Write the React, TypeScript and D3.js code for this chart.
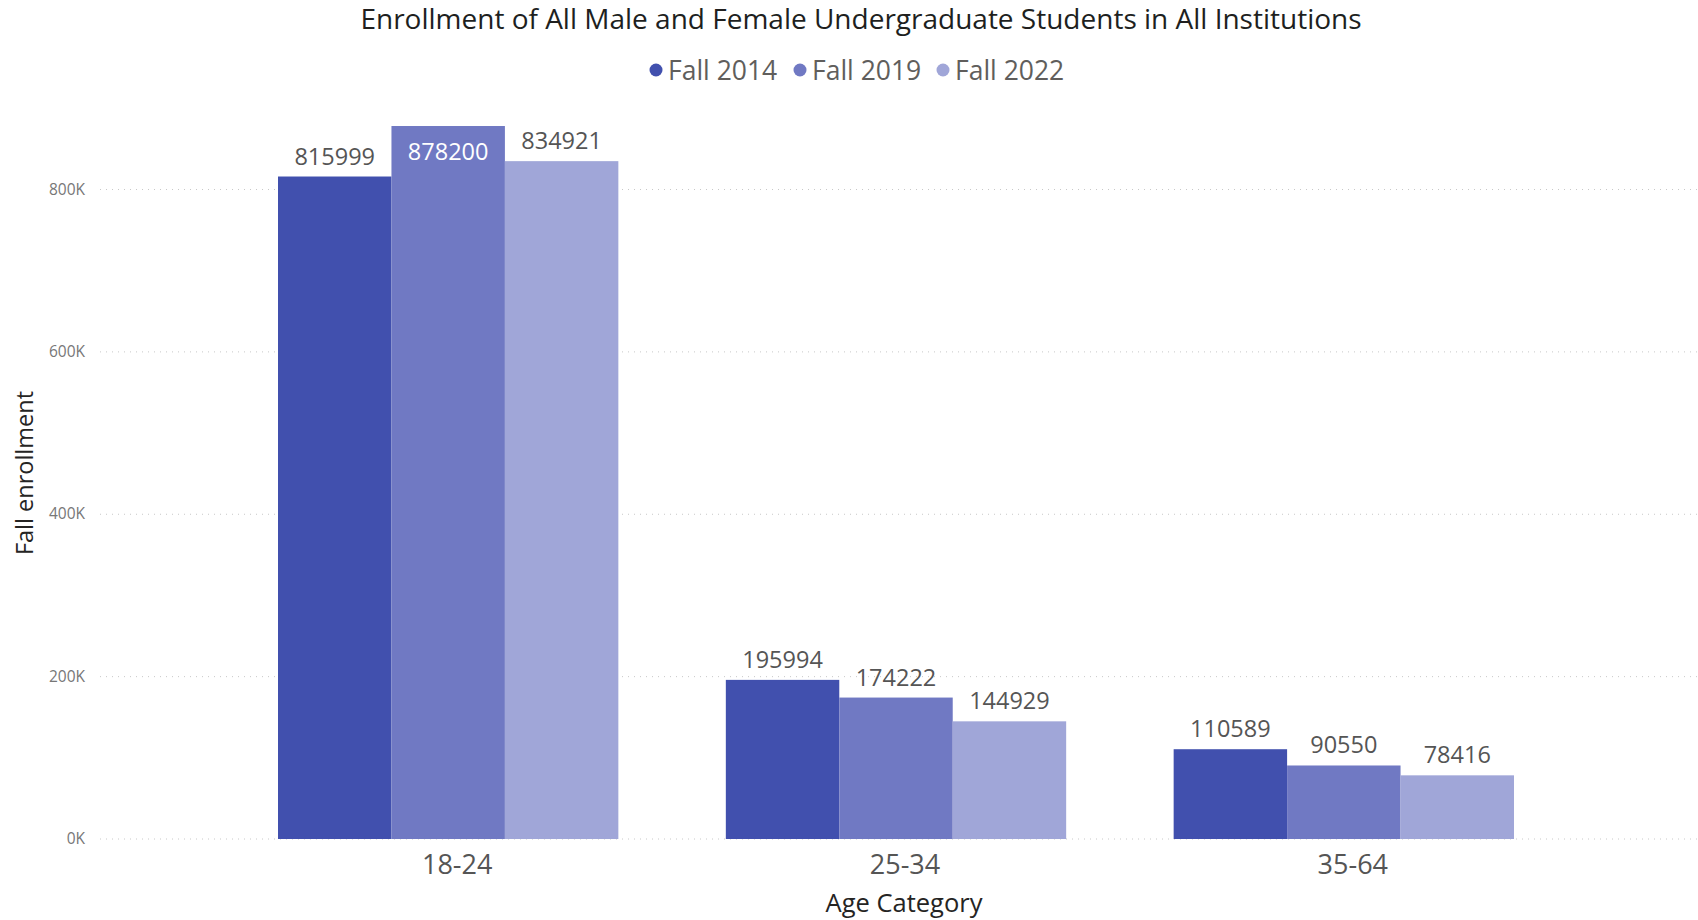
import React from "react";
import * as d3 from "d3";

const categories = ["18-24", "25-34", "35-64"];
const seriesNames = ["Fall 2014", "Fall 2019", "Fall 2022"];
const fall2014 = [815999, 195994, 110589];
const fall2019 = [878200, 174222, 90550];
const fall2022 = [834921, 144929, 78416];
const yTicks = [0, 200000, 400000, 600000, 800000];
const colors = ["#4150ae", "#7079c3", "#a0a6d8"];

const W = 1698;
const H = 920;
const FONT = "'Open Sans', 'Segoe UI', sans-serif";

export default function App() {
  const series = [fall2014, fall2019, fall2022];
  const x = d3.scaleBand<string>().domain(categories).range([100, 1692]).paddingInner(0.24).paddingOuter(0.3975);
  const xi = d3.scaleBand<string>().domain(seriesNames).range([0, x.bandwidth()]);
  const y = d3.scaleLinear().domain([0, 800000]).range([839, 189.5]);
  const fmtK = (v: number) => `${v / 1000}K`;
  const legendX = [656, 800, 943];

  return (
    <svg width={W} height={H} style={{ position: "absolute", left: 0, top: 0, background: "#fff" }}>
      <text x={861} y={29} textAnchor="middle" fontFamily={FONT} fontSize={28} fill="#201f1e">
        Enrollment of All Male and Female Undergraduate Students in All Institutions
      </text>
      {seriesNames.map((s, i) => (
        <g key={s}>
          <circle cx={legendX[i]} cy={70} r={6.5} fill={colors[i]} />
          <text x={legendX[i] + 12} y={80} fontFamily={FONT} fontSize={26.5} fill="#605e5c">{s}</text>
        </g>
      ))}
      {yTicks.map((t) => (
        <g key={t}>
          <line x1={100} x2={W} y1={y(t)} y2={y(t)} stroke="#c8c8c8" strokeWidth={1} strokeDasharray="1,5" />
          <text x={85} y={y(t) + 5} textAnchor="end" fontFamily={FONT} fontSize={15.5} fill="#777">{fmtK(t)}</text>
        </g>
      ))}
      <text transform={`translate(33,473) rotate(-90)`} textAnchor="middle" fontFamily={FONT} fontSize={23.5} fill="#252423">
        Fall enrollment
      </text>
      {categories.map((c, ci) => (
        <g key={c}>
          {seriesNames.map((s, si) => {
            const v = series[si][ci];
            const bx = (x(c) as number) + (xi(s) as number);
            const bw = xi.bandwidth();
            const top = y(v);
            const inside = top < 140;
            return (
              <g key={s}>
                <rect x={bx} y={top} width={bw} height={y(0) - top} fill={colors[si]} />
                <text
                  x={bx + bw / 2}
                  y={inside ? top + 34 : top - 12}
                  textAnchor="middle"
                  fontFamily={FONT}
                  fontSize={23.5}
                  fill={inside ? "#ffffff" : "#555"}
                >
                  {v}
                </text>
              </g>
            );
          })}
          <text x={(x(c) as number) + x.bandwidth() / 2 + 9} y={874} textAnchor="middle" fontFamily={FONT} fontSize={27} fill="#555">
            {c}
          </text>
        </g>
      ))}
      <text x={904} y={912} textAnchor="middle" fontFamily={FONT} fontSize={25.5} fill="#252423">
        Age Category
      </text>
    </svg>
  );
}
